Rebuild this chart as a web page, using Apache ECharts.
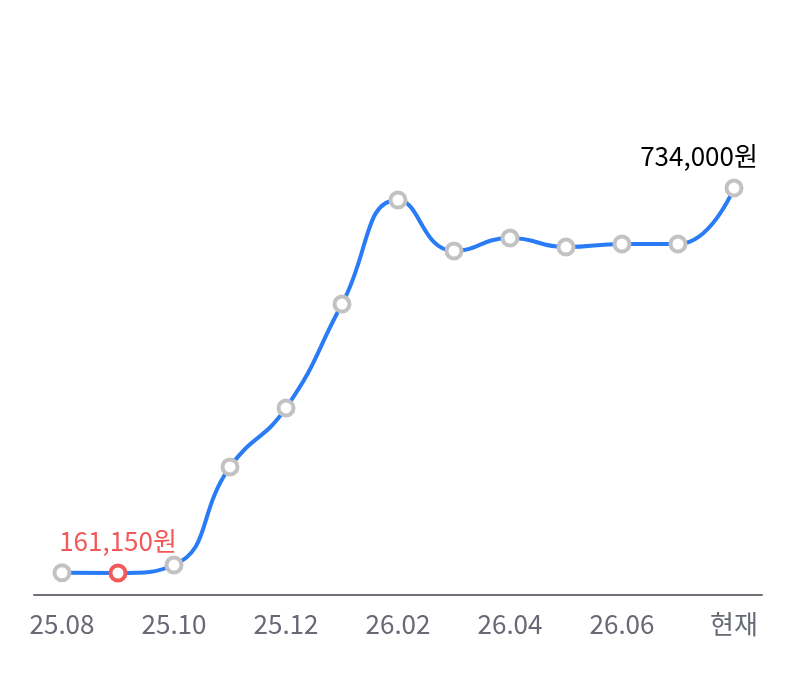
<!DOCTYPE html>
<html>
<head>
<meta charset="utf-8">
<script src="https://cdn.jsdelivr.net/npm/echarts@6/dist/echarts.min.js"></script>
<style>
  html, body { margin: 0; padding: 0; background: #fff; }
  #main { width: 800px; height: 681px; }
</style>
</head>
<body>
<div id="main"></div>
<script>
// 월별 가격
var months = ['25.08', '25.09', '25.10', '25.11', '25.12', '26.01', '26.02', '26.03', '26.04', '26.05', '26.06', '26.07', '현재'];
var prices = [161500, 161150, 173000, 319000, 406700, 561400, 716200, 640300, 659600, 646200, 650700, 650700, 734000];
var minIndex = 1;
var lastIndex = prices.length - 1;

var chart = echarts.init(document.getElementById('main'));

var fmt = function (v) {
    return v.toString().replace(/\B(?=(\d{3})+(?!\d))/g, ',') + '원';
};

var points = [];
for (var i = 0; i < prices.length; i++) {
    var p = { value: prices[i] };
    if (i == minIndex) {
        p.itemStyle = { borderColor: '#f25a5a' };
        p.label = {
            show: true, position: 'top', distance: 9,
            color: '#f25a5a', formatter: function (o) { return fmt(o.value); }
        };
    }
    if (i == lastIndex) {
        p.label = {
            show: true, position: 'top', distance: 9, offset: [-35, 0],
            color: '#000', formatter: function (o) { return fmt(o.value); }
        };
    }
    points.push(p);
}

var option = {
    animation: false,
    grid: { left: 34, right: 38, top: 100, bottom: 86 },
    xAxis: {
        type: 'category',
        data: months,
        boundaryGap: true,
        axisLine: { lineStyle: { color: '#6f7179', width: 2 } },
        axisTick: { show: false },
        axisLabel: {
            interval: 1,
            color: '#676a74',
            fontSize: 26,
            fontFamily: 'Noto Sans CJK KR',
            margin: 16
        }
    },
    yAxis: {
        type: 'value',
        min: 128400,
        max: 865000,
        show: false,
        splitLine: { show: false }
    },
    series: [{
        type: 'line',
        data: points,
        smooth: 0.5,
        symbol: 'circle',
        symbolSize: 15,
        showAllSymbol: true,
        lineStyle: { color: '#2a7bf6', width: 4 },
        itemStyle: { color: '#fff', borderColor: '#c2c2c2', borderWidth: 4 },
        label: {
            fontSize: 26,
            fontFamily: 'Noto Sans CJK KR'
        },
        z: 3
    }]
};
chart.setOption(option);
window.onresize = chart.resize;
</script>
</body>
</html>
